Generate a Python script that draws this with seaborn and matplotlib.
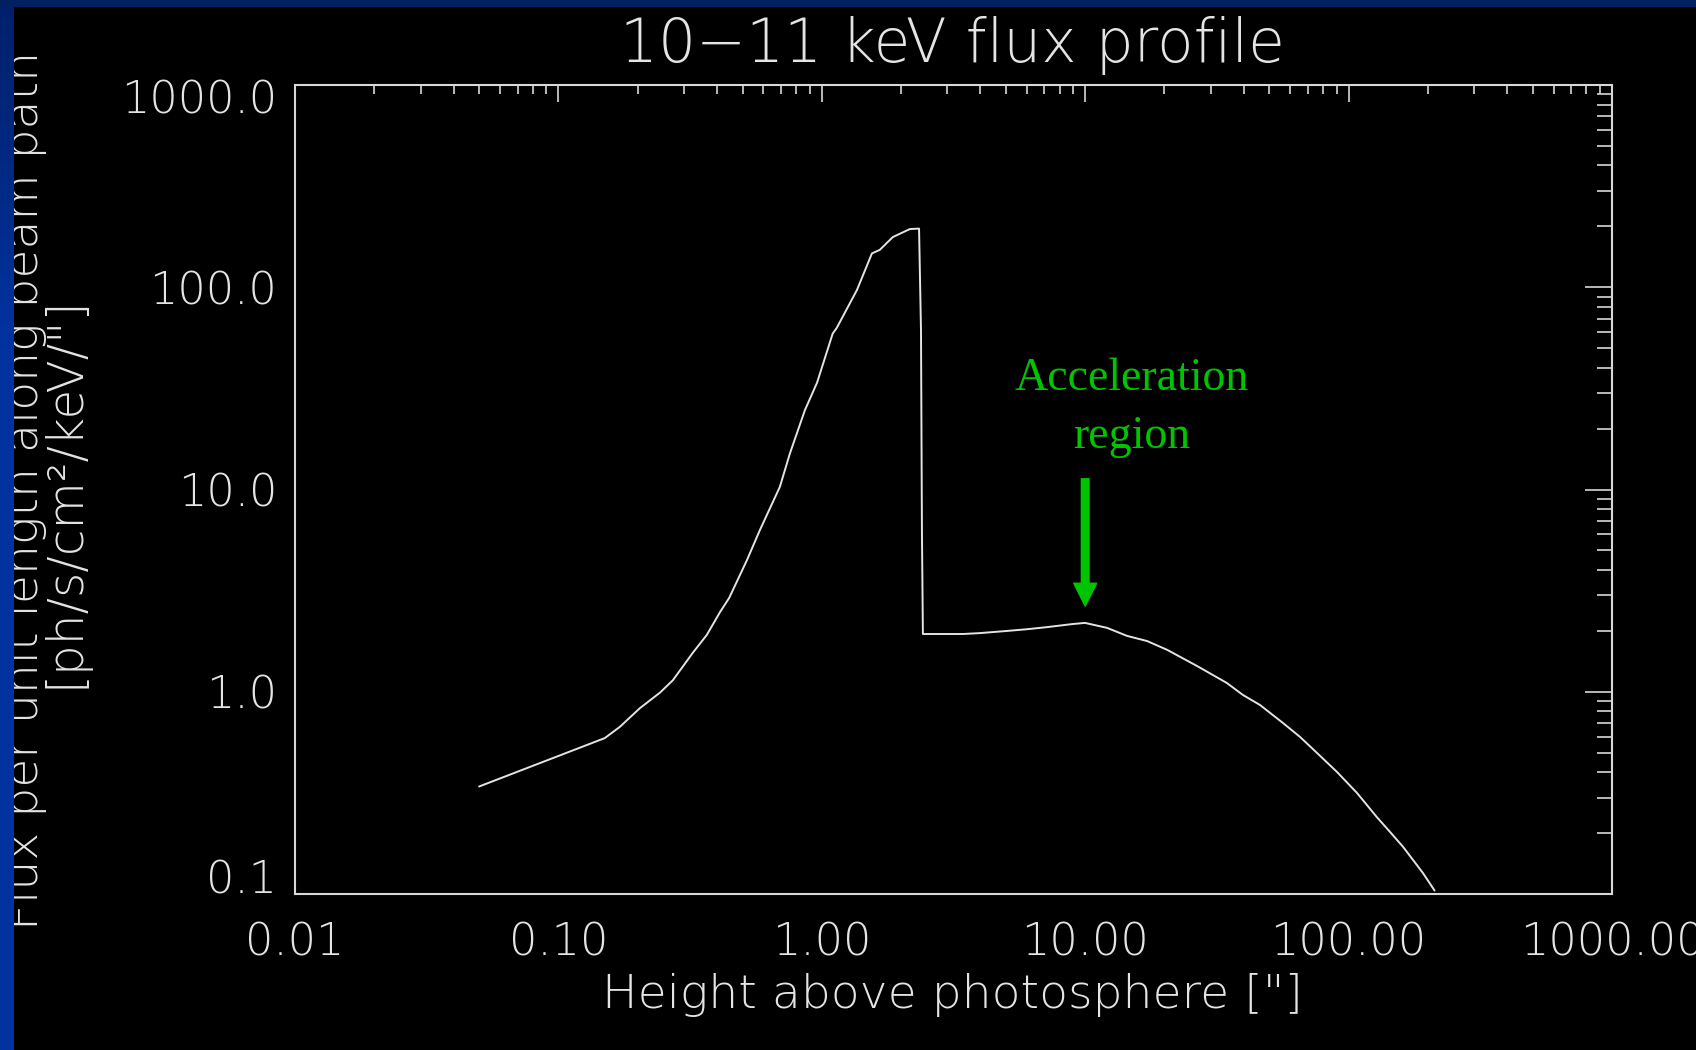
import numpy as np
import pandas as pd
import matplotlib
matplotlib.use("Agg")
import matplotlib.pyplot as plt
import matplotlib.transforms as mtransforms
import seaborn as sns
from matplotlib.ticker import FixedLocator, FixedFormatter, LogLocator, NullFormatter
from matplotlib.colors import LinearSegmentedColormap
from matplotlib.patches import Rectangle

# ---------------- data ----------------
height_arcsec = [0.050, 0.150, 0.171, 0.204, 0.243, 0.272, 0.324, 0.366, 0.411, 0.445,
                 0.52, 0.582, 0.693, 0.757, 0.863, 0.959,
                 1.10, 1.14, 1.36, 1.55, 1.66, 1.86, 2.16, 2.34, 2.38, 2.40, 2.42,
                 3.44, 3.99, 5.09, 6.07, 7.23, 8.91, 9.98, 12.1, 14.4, 17.2, 20.5,
                 26.6, 34.5, 39.7, 46.1, 56.4, 65.4, 75.9, 90.4, 107.6, 128.0, 143.5,
                 161.0, 191.5, 209.0, 212.0]
flux = [0.34, 0.59, 0.67, 0.83, 0.99, 1.14, 1.56, 1.91, 2.48, 2.91,
        4.48, 6.3, 10.3, 15.1, 24.7, 33.7,
        59.0, 63.0, 97.0, 147.0, 153.0, 177.0, 194.0, 195.0, 61.5, 6.1, 1.93,
        1.93, 1.95, 2.00, 2.04, 2.09, 2.16, 2.19, 2.07, 1.89, 1.78, 1.61,
        1.34, 1.105, 0.964, 0.86, 0.70, 0.598, 0.498, 0.401, 0.316, 0.240, 0.203,
        0.171, 0.127, 0.107, 0.104]

x_tick_values = [0.01, 0.1, 1, 10, 100, 1000]
x_tick_labels = ["0.01", "0.10", "1.00", "10.00", "100.00", "1000.00"]
y_tick_values = [0.1, 1, 10, 100, 1000]
y_tick_labels = ["0.1", "1.0", "10.0", "100.0", "1000.0"]

title_text = "10\u221211 keV flux profile"
xlabel_text = "Height above photosphere [\"]"
ylabel_line1 = "Flux per unit length along beam path"
ylabel_line2 = "[ph/s/cm\u00b2/keV/\"]"
annot_line1 = "Acceleration"
annot_line2 = "region"
annot_x = 10.0
arrow_from, arrow_to = 11.3, 2.65

# ---------------- style ----------------
sns.set_theme(style="dark", rc={"axes.facecolor": "black", "figure.facecolor": "black"})
plt.rcParams["font.family"] = ["DejaVu Sans"]
plt.rcParams["font.weight"] = 200

FG = "#e4e4e4"
GREEN = "#00c400"
W, H = 1696, 1050

fig = plt.figure(figsize=(W / 100, H / 100), dpi=100, facecolor="black")
ax = fig.add_axes([295 / W, 1 - 894 / H, (1612 - 295) / W, (894 - 85) / H])
ax.set_facecolor("black")

df = pd.DataFrame({"height": height_arcsec, "flux": flux})
sns.lineplot(data=df, x="height", y="flux", sort=False, estimator=None,
             color=FG, lw=1.4, ax=ax)

ax.set_xscale("log")
ax.set_yscale("log")
ax.set_xlim(x_tick_values[0], x_tick_values[-1])
ax.set_ylim(y_tick_values[0], y_tick_values[-1])
ax.grid(False)
ax.set_xlabel("")
ax.set_ylabel("")

ax.xaxis.set_major_locator(FixedLocator(x_tick_values))
ax.xaxis.set_major_formatter(FixedFormatter(x_tick_labels))
ax.yaxis.set_major_locator(FixedLocator(y_tick_values))
ax.yaxis.set_major_formatter(FixedFormatter(y_tick_labels))
for axis in (ax.xaxis, ax.yaxis):
    axis.set_minor_locator(LogLocator(base=10, subs=np.arange(2, 10), numticks=30))
    axis.set_minor_formatter(NullFormatter())

for sp in ax.spines.values():
    sp.set_visible(True)
    sp.set_color("#d8d8d8")
    sp.set_linewidth(1.5)

ax.tick_params(axis="both", which="both", direction="in", top=True, right=True,
               color="#d8d8d8", width=1.2, labelcolor=FG, labelsize=32)
ax.tick_params(axis="x", which="major", length=12.2, pad=20)
ax.tick_params(axis="x", which="minor", length=6.2)
ax.tick_params(axis="y", which="major", length=19.5, pad=13)
ax.tick_params(axis="y", which="minor", length=10.8)

yt = ax.yaxis.get_major_ticks(len(y_tick_values))
yt[0].label1.set_va("baseline")
yt[-1].label1.set_va("top")
yt[-1].label1.set_transform(yt[-1].label1.get_transform()
                            + mtransforms.ScaledTranslation(0, 6 / 100, fig.dpi_scale_trans))

# ---------------- texts ----------------
fig.text(952 / W, 1 - 62 / H, title_text, ha="center", va="baseline",
         fontsize=43, color=FG)
fig.text(952 / W, 1 - 1008 / H, xlabel_text, ha="center", va="baseline",
         fontsize=34, color=FG)
fig.text(38 / W, 1 - 490 / H, ylabel_line1, rotation=90, rotation_mode="anchor",
         ha="center", va="baseline", fontsize=34, color=FG)
fig.text(79 / W, 1 - 492 / H, ylabel_line2, rotation=90, rotation_mode="anchor",
         ha="center", va="baseline", fontsize=35, color=FG)

fig.text(1132 / W, 1 - 390 / H, annot_line1, ha="center", va="baseline",
         fontsize=33, color=GREEN, family="Liberation Serif", weight="normal")
fig.text(1132 / W, 1 - 448 / H, annot_line2, ha="center", va="baseline",
         fontsize=33, color=GREEN, family="Liberation Serif", weight="normal")
ax.annotate("", xy=(annot_x, arrow_to), xytext=(annot_x, arrow_from),
            arrowprops=dict(arrowstyle="simple,head_length=1.65,head_width=1.65,tail_width=0.55",
                            color=GREEN, shrinkA=0, shrinkB=0, mutation_scale=10))

# ---------------- slide frame (blue strips) ----------------
t = np.clip(np.linspace(0, 1, 300) / 0.33, 0, 1).reshape(-1, 1)
cmap = LinearSegmentedColormap.from_list("frame", ["#00206a", "#0033a0"])
lax = fig.add_axes([0, 0, 14 / W, 1], zorder=20)
lax.imshow(t, aspect="auto", cmap=cmap, extent=[0, 1, 0, 1], origin="upper")
lax.axis("off")
fig.add_artist(Rectangle((0, 1 - 6 / H), 1, 6 / H, transform=fig.transFigure,
                         color="#002060", zorder=21))

fig.savefig("out.png", dpi=100, facecolor="black")
